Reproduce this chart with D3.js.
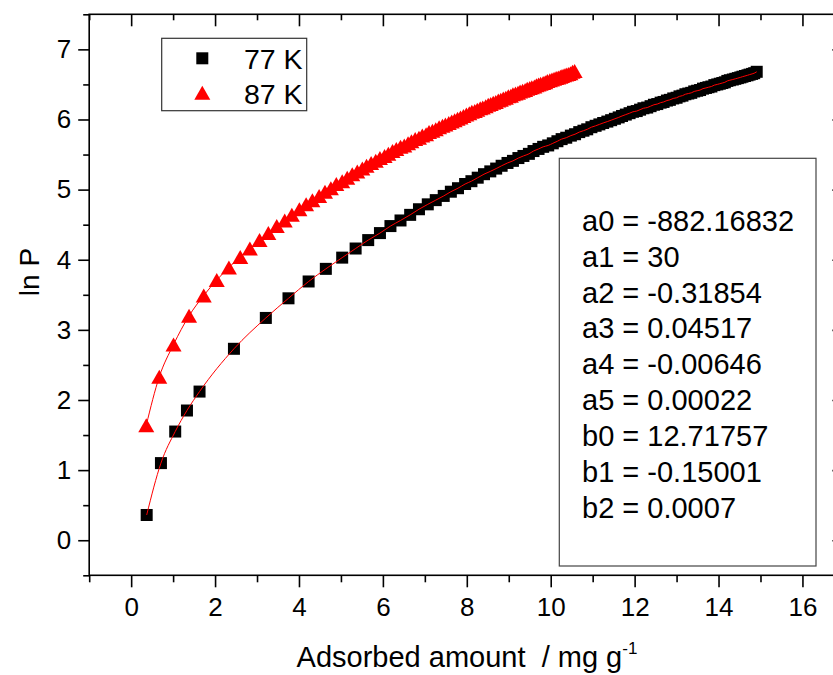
<!DOCTYPE html>
<html>
<head>
<meta charset="utf-8">
<script src="https://cdn.jsdelivr.net/npm/d3@7"></script>
<style>
  html, body { margin: 0; padding: 0; background: #fff; }
  svg { display: block; font-family: Arial, "Liberation Sans", sans-serif; }
</style>
</head>
<body>
<svg id="chart" width="833" height="675"></svg>
<script>
// ln P vs adsorbed amount, 77 K and 87 K, with virial fit

// 77 K points [amount, ln P]
const data77 = [
  [0.37,0.36],[0.71,1.10],[1.05,1.55],[1.33,1.85],[1.63,2.12],[2.45,2.73],[3.21,3.17],[3.75,3.45],[4.23,3.69],[4.64,3.87],
  [5.03,4.03],[5.35,4.16],[5.65,4.28],[5.93,4.38],[6.18,4.48],[6.42,4.56],[6.65,4.64],[6.86,4.72],[7.07,4.79],[7.26,4.85],
  [7.45,4.91],[7.62,4.97],[7.79,5.02],[7.96,5.08],[8.11,5.12],[8.26,5.17],[8.41,5.22],[8.56,5.26],[8.70,5.30],[8.83,5.34],
  [8.97,5.38],[9.10,5.41],[9.23,5.45],[9.35,5.48],[9.48,5.51],[9.59,5.55],[9.71,5.58],[9.82,5.61],[9.94,5.63],[10.05,5.66],
  [10.16,5.69],[10.26,5.72],[10.37,5.74],[10.48,5.77],[10.58,5.79],[10.68,5.82],[10.78,5.84],[10.87,5.86],[10.97,5.89],[11.07,5.91],
  [11.16,5.93],[11.25,5.95],[11.35,5.97],[11.44,5.99],[11.53,6.01],[11.62,6.03],[11.70,6.05],[11.79,6.07],[11.88,6.09],[11.96,6.11],
  [12.05,6.12],[12.13,6.14],[12.21,6.16],[12.30,6.17],[12.38,6.19],[12.46,6.21],[12.54,6.22],[12.62,6.24],[12.69,6.25],[12.77,6.27],
  [12.84,6.28],[12.92,6.30],[13.00,6.31],[13.07,6.33],[13.14,6.34],[13.21,6.36],[13.28,6.37],[13.35,6.38],[13.42,6.40],[13.49,6.41],
  [13.56,6.42],[13.63,6.44],[13.70,6.45],[13.76,6.46],[13.83,6.47],[13.90,6.49],[13.97,6.50],[14.03,6.51],[14.09,6.52],[14.15,6.53],
  [14.21,6.55],[14.27,6.56],[14.34,6.57],[14.40,6.58],[14.46,6.59],[14.52,6.60],[14.57,6.61],[14.63,6.62],[14.69,6.63],[14.74,6.64],
  [14.80,6.65],[14.85,6.66],[14.91,6.68]
];

// 87 K points [amount, ln P]
const data87 = [
  [0.36,1.64],[0.67,2.33],[1.01,2.79],[1.38,3.20],[1.73,3.49],[2.04,3.71],[2.33,3.89],[2.60,4.04],
  [2.83,4.16],[3.06,4.28],[3.27,4.38],[3.47,4.48],[3.66,4.56],[3.83,4.64],[4.01,4.72],[4.17,4.79],[4.32,4.85],[4.48,4.91],
  [4.62,4.97],[4.76,5.02],[4.89,5.08],[5.03,5.12],[5.15,5.17],[5.27,5.22],[5.39,5.26],[5.51,5.30],[5.61,5.34],[5.72,5.38],
  [5.83,5.41],[5.93,5.45],[6.04,5.48],[6.13,5.51],[6.23,5.55],[6.32,5.58],[6.42,5.61],[6.51,5.63],[6.60,5.66],[6.68,5.69],
  [6.77,5.72],[6.86,5.74],[6.94,5.77],[7.03,5.79],[7.10,5.82],[7.18,5.84],[7.26,5.86],[7.34,5.89],[7.42,5.91],[7.49,5.93],
  [7.57,5.95],[7.64,5.97],[7.71,5.99],[7.78,6.01],[7.85,6.03],[7.92,6.05],[7.99,6.07],[8.06,6.09],[8.12,6.11],[8.19,6.12],
  [8.25,6.14],[8.32,6.16],[8.38,6.17],[8.45,6.19],[8.51,6.21],[8.57,6.22],[8.63,6.24],[8.69,6.25],[8.75,6.27],[8.81,6.28],
  [8.87,6.30],[8.93,6.31],[8.99,6.33],[9.05,6.34],[9.10,6.36],[9.16,6.37],[9.22,6.38],[9.27,6.40],[9.33,6.41],[9.39,6.42],
  [9.44,6.44],[9.50,6.45],[9.55,6.46],[9.61,6.47],[9.66,6.49],[9.71,6.50],[9.76,6.51],[9.82,6.52],[9.87,6.53],[9.92,6.55],
  [9.98,6.56],[10.03,6.57],[10.08,6.58],[10.13,6.59],[10.18,6.60],[10.23,6.61],[10.27,6.62],[10.32,6.63],[10.37,6.64],[10.42,6.65],
  [10.47,6.66],[10.52,6.68],[10.57,6.69]
];

// fit parameters shown in the text box
const fitLines = [
  'a0 = -882.16832', 'a1 = 30', 'a2 = -0.31854', 'a3 = 0.04517', 'a4 = -0.00646',
  'a5 = 0.00022', 'b0 = 12.71757', 'b1 = -0.15001', 'b2 = 0.0007'
];

const seriesNames = ['77 K', '87 K'];
const xTicks = [0, 2, 4, 6, 8, 10, 12, 14, 16];
const xMinor = [-1, 1, 3, 5, 7, 9, 11, 13, 15, 17];
const yTicks = [0, 1, 2, 3, 4, 5, 6, 7];
const yMinor = [-0.5, 0.5, 1.5, 2.5, 3.5, 4.5, 5.5, 6.5, 7.5];

const svg = d3.select('#chart');
const plotL = 89.2, plotR = 844.4, plotT = 14.3, plotB = 575.3;

const x = d3.scaleLinear().domain([-1, 17]).range([plotL, plotR]);
const y = d3.scaleLinear().domain([-0.5, 7.5]).range([plotB, plotT]);

const FONT = 26;

// axes
function styleAxis(g) {
  g.select('.domain').remove();
  g.selectAll('.tick line').attr('stroke', '#000').attr('stroke-width', 1.6);
  g.selectAll('.tick text').attr('fill', '#000').attr('font-size', FONT);
}

svg.append('g').attr('transform', `translate(0,${plotB})`)
  .call(d3.axisBottom(x).tickValues(xTicks).tickSize(12).tickPadding(10))
  .call(styleAxis);
svg.append('g').attr('transform', `translate(0,${plotB})`)
  .call(d3.axisBottom(x).tickValues(xMinor).tickSize(7).tickFormat(''))
  .call(styleAxis);
svg.append('g').attr('transform', `translate(0,${plotT})`)
  .call(d3.axisTop(x).tickValues(xTicks).tickSize(-12).tickFormat(''))
  .call(styleAxis);
svg.append('g').attr('transform', `translate(0,${plotT})`)
  .call(d3.axisTop(x).tickValues(xMinor).tickSize(-6).tickFormat(''))
  .call(styleAxis);

svg.append('g').attr('transform', `translate(${plotL},0)`)
  .call(d3.axisLeft(y).tickValues(yTicks).tickSize(11).tickPadding(7))
  .call(styleAxis);
svg.append('g').attr('transform', `translate(${plotL},0)`)
  .call(d3.axisLeft(y).tickValues(yMinor).tickSize(6).tickFormat(''))
  .call(styleAxis);
svg.append('g').attr('transform', `translate(${plotR},0)`)
  .call(d3.axisRight(y).tickValues(yTicks).tickSize(-12).tickFormat(''))
  .call(styleAxis);
svg.append('g').attr('transform', `translate(${plotR},0)`)
  .call(d3.axisRight(y).tickValues(yMinor).tickSize(-6).tickFormat(''))
  .call(styleAxis);

// frame
svg.append('rect')
  .attr('x', plotL).attr('y', plotT)
  .attr('width', plotR - plotL).attr('height', plotB - plotT)
  .attr('fill', 'none').attr('stroke', '#000').attr('stroke-width', 1.6);

// axis titles
svg.append('text')
  .attr('transform', `translate(39,272) rotate(-90)`)
  .attr('text-anchor', 'middle')
  .attr('font-size', 28)
  .text('ln P');

const xt = svg.append('text')
  .attr('x', 467).attr('y', 667)
  .attr('text-anchor', 'middle')
  .attr('font-size', 29)
  .attr('xml:space', 'preserve');
xt.append('tspan').text('Adsorbed amount  / mg g');
xt.append('tspan').attr('dy', -13).attr('font-size', 17).text('-1');

// markers
const sq = 12;
const triPath = 'M0,-7L8,7L-8,7Z';

svg.append('g').selectAll('rect')
  .data(data77)
  .join('rect')
    .attr('x', d => x(d[0]) - sq / 2)
    .attr('y', d => y(d[1]) - sq / 2)
    .attr('width', sq).attr('height', sq)
    .attr('fill', '#000');

svg.append('g').selectAll('path')
  .data(data87)
  .join('path')
    .attr('d', triPath)
    .attr('transform', d => `translate(${x(d[0])},${y(d[1])})`)
    .attr('fill', '#ff0000');

// fit curves (thin red)
const line = d3.line().x(d => x(d[0])).y(d => y(d[1])).curve(d3.curveMonotoneX);
[data77, data87].forEach(ds => {
  svg.append('path')
    .attr('d', line(ds))
    .attr('fill', 'none')
    .attr('stroke', '#ff0000')
    .attr('stroke-width', 1);
});

// legend
const lg = svg.append('g');
lg.append('rect')
  .attr('x', 161.7).attr('y', 38.3).attr('width', 145).attr('height', 72.4)
  .attr('fill', '#fff').attr('stroke', '#333').attr('stroke-width', 1.2);
seriesNames.forEach((name, i) => {
  const cy = 58.3 + i * 34.4;
  if (i === 0) {
    lg.append('rect').attr('x', 202.3 - sq / 2).attr('y', cy - sq / 2)
      .attr('width', sq).attr('height', sq).attr('fill', '#000');
  } else {
    lg.append('path').attr('d', triPath)
      .attr('transform', `translate(202.3,${cy})`).attr('fill', '#ff0000');
  }
  lg.append('text')
    .attr('x', 244).attr('y', cy + 11)
    .attr('font-size', 28.5)
    .text(name);
});

// fit parameter box
const fb = svg.append('g');
fb.append('rect')
  .attr('x', 559.3).attr('y', 158.3).attr('width', 256.7).attr('height', 407.7)
  .attr('fill', '#fff').attr('stroke', '#444').attr('stroke-width', 1.2);
fb.selectAll('text')
  .data(fitLines)
  .join('text')
    .attr('x', 582)
    .attr('y', (d, i) => 230.7 + i * 35.9)
    .attr('font-size', 29)
    .text(d => d);
</script>
</body>
</html>
